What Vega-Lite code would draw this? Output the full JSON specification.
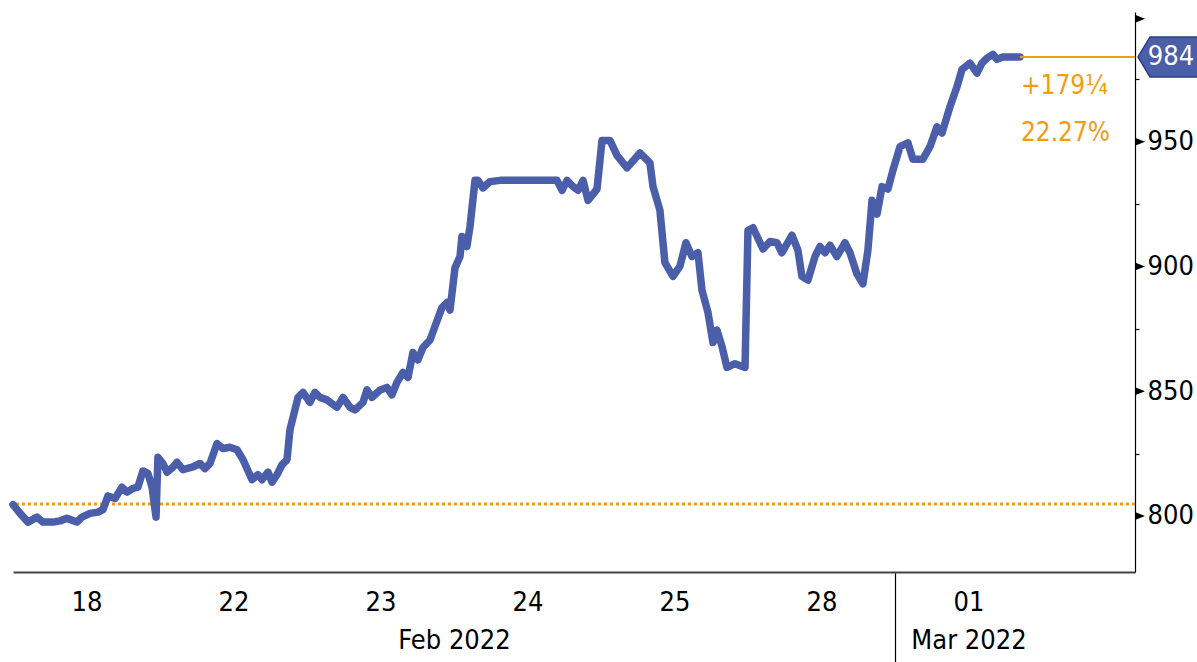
{
  "$schema": "https://vega.github.io/schema/vega-lite/v6.json",
  "width": 1122,
  "height": 560,
  "autosize": {"type": "none"},
  "padding": {"left": 13, "top": 12, "right": 62, "bottom": 90},
  "background": "white",
  "config": {
    "view": {"stroke": null},
    "font": "DejaVu Sans Condensed, sans-serif"
  },
  "datasets": {
    "series": [
      {"t": 0.000, "v": 804.5}, {"t": 0.048, "v": 801}, {"t": 0.102, "v": 797.5}, {"t": 0.163, "v": 799.5},
      {"t": 0.204, "v": 797.5}, {"t": 0.272, "v": 797.5}, {"t": 0.320, "v": 798}, {"t": 0.367, "v": 799},
      {"t": 0.435, "v": 797.5}, {"t": 0.469, "v": 799.5}, {"t": 0.524, "v": 801}, {"t": 0.578, "v": 801.5},
      {"t": 0.612, "v": 802.5}, {"t": 0.646, "v": 808}, {"t": 0.694, "v": 807}, {"t": 0.741, "v": 811.5},
      {"t": 0.776, "v": 809.5}, {"t": 0.816, "v": 811}, {"t": 0.850, "v": 811.5}, {"t": 0.884, "v": 818},
      {"t": 0.918, "v": 817}, {"t": 0.946, "v": 811.5}, {"t": 0.973, "v": 799.5}, {"t": 0.986, "v": 823.5},
      {"t": 1.020, "v": 821}, {"t": 1.048, "v": 817.5}, {"t": 1.088, "v": 819.5}, {"t": 1.116, "v": 821.5},
      {"t": 1.156, "v": 818.5}, {"t": 1.218, "v": 819.5}, {"t": 1.272, "v": 821}, {"t": 1.306, "v": 819},
      {"t": 1.340, "v": 821}, {"t": 1.388, "v": 829}, {"t": 1.429, "v": 827}, {"t": 1.476, "v": 827.5},
      {"t": 1.524, "v": 826.5}, {"t": 1.565, "v": 822.5}, {"t": 1.626, "v": 814.5}, {"t": 1.667, "v": 816.5},
      {"t": 1.694, "v": 814.5}, {"t": 1.735, "v": 817.5}, {"t": 1.762, "v": 813.5}, {"t": 1.796, "v": 816.5},
      {"t": 1.830, "v": 820.5}, {"t": 1.864, "v": 822.5}, {"t": 1.884, "v": 834.5}, {"t": 1.939, "v": 847.5},
      {"t": 1.973, "v": 849.5}, {"t": 2.020, "v": 845.5}, {"t": 2.054, "v": 849.5}, {"t": 2.088, "v": 847.5},
      {"t": 2.136, "v": 846.5}, {"t": 2.204, "v": 843.5}, {"t": 2.245, "v": 847.5}, {"t": 2.293, "v": 843.5},
      {"t": 2.327, "v": 842.5}, {"t": 2.381, "v": 845.5}, {"t": 2.408, "v": 850.5}, {"t": 2.442, "v": 847.5},
      {"t": 2.497, "v": 850.5}, {"t": 2.544, "v": 851.5}, {"t": 2.578, "v": 848.5}, {"t": 2.612, "v": 853.5},
      {"t": 2.653, "v": 857.5}, {"t": 2.687, "v": 855.5}, {"t": 2.721, "v": 865.5}, {"t": 2.755, "v": 862.5},
      {"t": 2.789, "v": 867.5}, {"t": 2.837, "v": 870.5}, {"t": 2.871, "v": 876}, {"t": 2.918, "v": 883.5},
      {"t": 2.952, "v": 885.5}, {"t": 2.973, "v": 882.5}, {"t": 3.007, "v": 899.5}, {"t": 3.041, "v": 904},
      {"t": 3.054, "v": 912}, {"t": 3.088, "v": 908}, {"t": 3.109, "v": 916}, {"t": 3.143, "v": 934.5},
      {"t": 3.163, "v": 934.5}, {"t": 3.197, "v": 931.5}, {"t": 3.245, "v": 934}, {"t": 3.313, "v": 934.5},
      {"t": 3.449, "v": 934.5}, {"t": 3.585, "v": 934.5}, {"t": 3.701, "v": 934.5}, {"t": 3.735, "v": 930.5},
      {"t": 3.769, "v": 934.5}, {"t": 3.810, "v": 932}, {"t": 3.844, "v": 930.5}, {"t": 3.878, "v": 934.5},
      {"t": 3.912, "v": 926.5}, {"t": 3.973, "v": 931}, {"t": 4.007, "v": 950.5}, {"t": 4.061, "v": 950.5},
      {"t": 4.109, "v": 944.5}, {"t": 4.177, "v": 939.5}, {"t": 4.265, "v": 945.5}, {"t": 4.333, "v": 941.5},
      {"t": 4.354, "v": 932}, {"t": 4.401, "v": 922.5}, {"t": 4.435, "v": 901.5}, {"t": 4.490, "v": 896},
      {"t": 4.537, "v": 900}, {"t": 4.578, "v": 909.5}, {"t": 4.619, "v": 904}, {"t": 4.660, "v": 905.5},
      {"t": 4.687, "v": 890.5}, {"t": 4.728, "v": 881.5}, {"t": 4.762, "v": 869.5}, {"t": 4.789, "v": 874.5},
      {"t": 4.823, "v": 868}, {"t": 4.857, "v": 859.5}, {"t": 4.912, "v": 861}, {"t": 4.980, "v": 859.5},
      {"t": 5.000, "v": 914.5}, {"t": 5.034, "v": 915.5}, {"t": 5.102, "v": 907}, {"t": 5.150, "v": 910},
      {"t": 5.197, "v": 909.5}, {"t": 5.231, "v": 905.5}, {"t": 5.299, "v": 912.5}, {"t": 5.340, "v": 906.5},
      {"t": 5.367, "v": 896}, {"t": 5.408, "v": 894.5}, {"t": 5.456, "v": 904}, {"t": 5.490, "v": 908},
      {"t": 5.524, "v": 905.5}, {"t": 5.558, "v": 908.5}, {"t": 5.605, "v": 904}, {"t": 5.660, "v": 909.5},
      {"t": 5.694, "v": 905.5}, {"t": 5.741, "v": 897}, {"t": 5.782, "v": 893}, {"t": 5.816, "v": 906.5},
      {"t": 5.844, "v": 926.5}, {"t": 5.878, "v": 921}, {"t": 5.912, "v": 932}, {"t": 5.952, "v": 931},
      {"t": 5.986, "v": 938.5}, {"t": 6.034, "v": 948}, {"t": 6.088, "v": 949.5}, {"t": 6.122, "v": 943},
      {"t": 6.190, "v": 943}, {"t": 6.238, "v": 948}, {"t": 6.286, "v": 956}, {"t": 6.320, "v": 953.5},
      {"t": 6.374, "v": 964}, {"t": 6.422, "v": 972}, {"t": 6.456, "v": 979}, {"t": 6.510, "v": 981.5},
      {"t": 6.558, "v": 977.5}, {"t": 6.592, "v": 981.5}, {"t": 6.626, "v": 983.5}, {"t": 6.667, "v": 985},
      {"t": 6.694, "v": 983}, {"t": 6.735, "v": 984}, {"t": 6.850, "v": 984}
    ],
    "base": [{"v": 804.75}],
    "last": [{"t": 6.85, "t2": 7.633, "v": 984, "label": "984", "chg": "+179¼", "pct": "22.27%"}],
    "marks": [{"v": 800}, {"v": 850}, {"v": 900}, {"v": 950}, {"v": 999.3}]
  },
  "layer": [
    {
      "data": {"name": "base"},
      "mark": {"type": "rule", "color": "#F39C12", "strokeWidth": 3, "strokeDash": [3, 3]},
      "encoding": {
        "y": {"field": "v", "type": "quantitative", "scale": {"domain": [777.5, 1002], "nice": false, "zero": false},
          "axis": {
            "orient": "right", "title": null, "grid": false,
            "values": [800, 825, 850, 875, 900, 925, 950, 975],
            "labelExpr": "datum.value % 50 == 0 ? datum.label : ''",
            "domainColor": "#000", "domainWidth": 1.2,
            "tickColor": "#000", "tickSize": 4, "tickWidth": 1.2,
            "labelFontSize": 27, "labelColor": "#000", "labelPadding": 8, "labelFont": "DejaVu Sans Condensed, sans-serif"
          }
        }
      }
    },
    {
      "data": {"name": "series"},
      "mark": {"type": "line", "color": "#4B5EAA", "strokeWidth": 7.5, "strokeJoin": "round", "strokeCap": "round"},
      "encoding": {
        "x": {"field": "t", "type": "quantitative", "scale": {"domain": [0, 7.633], "nice": false, "zero": false},
          "axis": {
            "title": null, "grid": false,
            "values": [0.5, 1.5, 2.5, 3, 3.5, 4.5, 5.5, 6, 6.5],
            "labelExpr": "datum.value == 0.5 ? '18' : datum.value == 1.5 ? '22' : datum.value == 2.5 ? '23' : datum.value == 3 ? ['', 'Feb 2022'] : datum.value == 3.5 ? '24' : datum.value == 4.5 ? '25' : datum.value == 5.5 ? '28' : datum.value == 6.5 ? ['01', 'Mar 2022'] : ''",
            "labelOverlap": false, "labelFlush": false, "labelBound": false,
            "labelFontSize": 27, "labelColor": "#000", "labelLineHeight": 38,
            "labelFont": "DejaVu Sans Condensed, sans-serif",
            "domainColor": "#444", "domainWidth": 2,
            "tickSize": 90, "tickColor": "#000", "tickWidth": 1.2,
            "tickOpacity": {"condition": {"test": "datum.value == 6", "value": 1}, "value": 0},
            "labelPadding": -73
          }
        },
        "y": {"field": "v", "type": "quantitative"}
      }
    },
    {
      "data": {"name": "last"},
      "mark": {"type": "rule", "color": "#F39C12", "strokeWidth": 2},
      "encoding": {
        "x": {"field": "t", "type": "quantitative"},
        "x2": {"field": "t2"},
        "y": {"field": "v", "type": "quantitative"}
      }
    },
    {
      "data": {"name": "last"},
      "mark": {"type": "text", "color": "#F39C12", "fontSize": 26, "align": "left", "baseline": "middle", "dx": 1, "dy": 29},
      "encoding": {
        "x": {"field": "t", "type": "quantitative"},
        "y": {"field": "v", "type": "quantitative"},
        "text": {"field": "chg"}
      }
    },
    {
      "data": {"name": "last"},
      "mark": {"type": "text", "color": "#F39C12", "fontSize": 26, "align": "left", "baseline": "middle", "dx": 1, "dy": 76},
      "encoding": {
        "x": {"field": "t", "type": "quantitative"},
        "y": {"field": "v", "type": "quantitative"},
        "text": {"field": "pct"}
      }
    },
    {
      "data": {"name": "marks"},
      "mark": {"type": "point", "shape": "M -1 -0.8 L 1 0 L -1 0.8 Z", "size": 100, "filled": true, "color": "#000", "opacity": 1, "xOffset": 5, "clip": false},
      "encoding": {
        "x": {"datum": 7.633, "type": "quantitative"},
        "y": {"field": "v", "type": "quantitative"}
      }
    },
    {
      "data": {"name": "last"},
      "mark": {"type": "point", "shape": "M -1 0 L -0.6 -0.667 L 1 -0.667 L 1 0.667 L -0.6 0.667 Z", "size": 3600, "filled": true, "fill": "#4B5EAA", "stroke": "#2E3F80", "strokeWidth": 1.5, "opacity": 1, "xOffset": 33},
      "encoding": {
        "x": {"field": "t2", "type": "quantitative"},
        "y": {"field": "v", "type": "quantitative"}
      }
    },
    {
      "data": {"name": "last"},
      "mark": {"type": "text", "color": "white", "fontSize": 27, "align": "center", "baseline": "middle", "dx": 36},
      "encoding": {
        "x": {"field": "t2", "type": "quantitative"},
        "y": {"field": "v", "type": "quantitative"},
        "text": {"field": "label"}
      }
    }
  ]
}
